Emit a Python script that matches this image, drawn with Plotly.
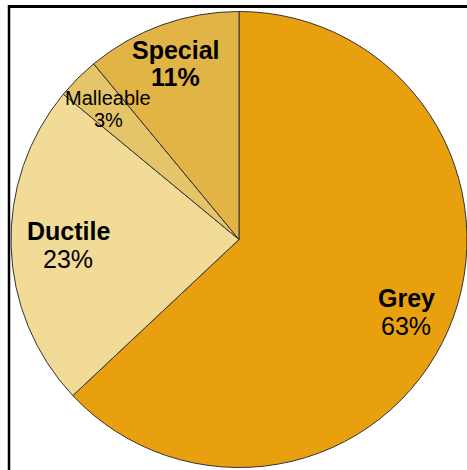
import math
import plotly.graph_objects as go

labels = ["Grey", "Ductile", "Malleable", "Special"]
values = [63, 23, 3, 11]
colors = ["#E9A00E", "#F2DA97", "#E5C56A", "#E2B446"]

# page geometry (px)
W_PAGE, H_PAGE = 467, 470
ML, MR, MT, MB = 11, 0, 9, 0
PW, PH = W_PAGE - ML - MR, H_PAGE - MT - MB
CX, CY = ML + PW / 2, MT + PH / 2
R = min(PW, PH) / 2

# label placement: fraction of radius, and font per slice
label_r = [0.80, 0.75, 0.81, 0.82]
name_bold = [True, True, False, True]
pct_bold = [False, False, False, True]
label_size = [25, 25, 20, 25]


def px(x, y):
    return (x - ML) / PW, 1 - (y - MT) / PH


fig = go.Figure(go.Pie(
    labels=labels, values=values,
    sort=False, direction="clockwise", rotation=0,
    marker=dict(colors=colors, line=dict(color="#333333", width=1)),
    textinfo="none", hoverinfo="label+percent",
    showlegend=False,
))

annotations = []
total = sum(values)
start = 0.0
for i, (lab, v) in enumerate(zip(labels, values)):
    mid = (start + v / 2) / total * 2 * math.pi
    start += v
    r = label_r[i] * R
    x, y = px(CX + r * math.sin(mid), CY - r * math.cos(mid))
    pct = f"{round(v / total * 100)}%"
    gap = label_size[i] * 0.55
    for txt, bold, shift in ((lab, name_bold[i], gap), (pct, pct_bold[i], -gap)):
        annotations.append(dict(
            x=x, y=y, xref="paper", yref="paper", showarrow=False,
            xanchor="center", yanchor="middle",
            text=f"<b>{txt}</b>" if bold else txt, yshift=shift,
            font=dict(family="Liberation Sans, Arial, sans-serif",
                      size=label_size[i], color="#000000"),
        ))

x0, y0 = px(8, 6.5)
x1, _ = px(W_PAGE, 6.5)
xl, yt = px(9, 5)
_, yb = px(9, H_PAGE)
fig.update_layout(
    width=W_PAGE, height=H_PAGE,
    margin=dict(l=ML, r=MR, t=MT, b=MB),
    paper_bgcolor="#FFFFFF", plot_bgcolor="#FFFFFF",
    annotations=annotations,
    shapes=[
        dict(type="line", xref="paper", yref="paper", x0=x0, x1=x1, y0=y0, y1=y0,
             line=dict(color="#000000", width=3)),
        dict(type="line", xref="paper", yref="paper", x0=xl, x1=xl, y0=yt, y1=yb,
             line=dict(color="#000000", width=2.5)),
    ],
)

fig.write_html("out.html", config={"displayModeBar": False},
               post_script="document.body.style.margin='0';")
